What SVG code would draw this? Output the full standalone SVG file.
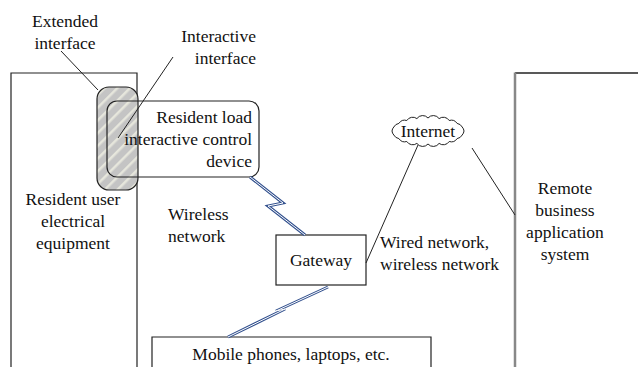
<svg xmlns="http://www.w3.org/2000/svg" width="638" height="367" viewBox="0 0 638 367">
<style>
text{font-family:"Liberation Serif","Times New Roman",serif;font-size:17.5px;fill:#111}
.box{fill:none;stroke:#222;stroke-width:1.2}
.ln{fill:none;stroke:#222;stroke-width:1}
.boltO{fill:none;stroke:#34528f;stroke-width:3;stroke-linejoin:miter}
.boltI{fill:none;stroke:#fff;stroke-width:1;stroke-linejoin:miter}
.m{text-anchor:middle}.e{text-anchor:end}
</style>
<defs>
<pattern id="hatch" patternUnits="userSpaceOnUse" width="9" height="9" patternTransform="rotate(45)">
<rect width="9" height="9" fill="#c4c4c4"/>
<rect x="0" y="0" width="2.5" height="9" fill="#e6e6dc"/>
</pattern>
</defs>
<rect width="638" height="367" fill="#fff"/>
<g id="resident-user-equipment">
<path class="box" d="M11,368 V73 H137 V368"/>
<text class="m" x="73" y="205">Resident user</text>
<text class="m" x="73" y="227">electrical</text>
<text class="m" x="73" y="249">equipment</text>
</g>
<g id="extended-interface">
<rect x="97" y="87" width="41" height="103" rx="12" fill="url(#hatch)" stroke="#222" stroke-width="1.2"/>
</g>
<g id="resident-load-device">
<rect class="box" x="107" y="101" width="152" height="76" rx="10"/>
<text class="e" x="252" y="123">Resident load</text>
<text class="e" x="252" y="145">interactive control</text>
<text class="e" x="252" y="167">device</text>
</g>
<g id="remote-system">
<path fill="none" stroke="#222" stroke-width="1.4" d="M515,73 H640"/>
<path fill="none" stroke="#888" stroke-width="2.5" d="M515,72.5 V368"/>
<text class="m" x="565" y="194">Remote</text>
<text class="m" x="565" y="216">business</text>
<text class="m" x="565" y="238">application</text>
<text class="m" x="565" y="260">system</text>
</g>
<g id="internet">
<path fill="#fff" stroke="#222" stroke-width="1" d="M464,131 A7,7 0 0 1 462.2,135 A7,7 0 0 1 457.1,138.6 A7,7 0 0 1 449.2,141.5 A7,7 0 0 1 439.1,143.4 A7,7 0 0 1 428,144 A7,7 0 0 1 416.9,143.4 A7,7 0 0 1 406.8,141.5 A7,7 0 0 1 398.9,138.6 A7,7 0 0 1 393.8,135 A7,7 0 0 1 392,131 A7,7 0 0 1 393.8,127 A7,7 0 0 1 398.9,123.4 A7,7 0 0 1 406.8,120.5 A7,7 0 0 1 416.9,118.6 A7,7 0 0 1 428,118 A7,7 0 0 1 439.1,118.6 A7,7 0 0 1 449.2,120.5 A7,7 0 0 1 457.1,123.4 A7,7 0 0 1 462.2,127 A7,7 0 0 1 464,131 Z"/>
<text class="m" x="428" y="137">Internet</text>
</g>
<g id="gateway">
<rect class="box" x="276" y="235" width="90" height="50"/>
<text class="m" x="321" y="266">Gateway</text>
</g>
<g id="mobile-devices">
<path class="box" d="M152,368 V337 H431 V368"/>
<text class="m" x="291" y="360">Mobile phones, laptops, etc.</text>
</g>
<g id="connectors">
<line class="ln" x1="61" y1="51" x2="98" y2="90"/>
<line class="ln" x1="173" y1="57" x2="118" y2="138"/>
<line class="ln" x1="418" y1="145" x2="366" y2="263"/>
<line class="ln" x1="472" y1="148" x2="515" y2="215"/>
<polyline class="boltO" points="250,177 283,203 268,206 305,235"/>
<polyline class="boltI" points="250,177 283,203 268,206 305,235"/>
<polyline class="boltO" points="328,287 276,311 285,309 228,337"/>
<polyline class="boltI" points="328,287 276,311 285,309 228,337"/>
</g>
<g id="labels">
<text class="m" x="65" y="27">Extended</text>
<text class="m" x="65" y="49">interface</text>
<text class="e" x="256" y="42">Interactive</text>
<text class="e" x="256" y="64">interface</text>
<text x="168" y="220">Wireless</text>
<text x="168" y="242">network</text>
<text x="380" y="248">Wired network,</text>
<text x="380" y="270">wireless network</text>
</g>
</svg>
